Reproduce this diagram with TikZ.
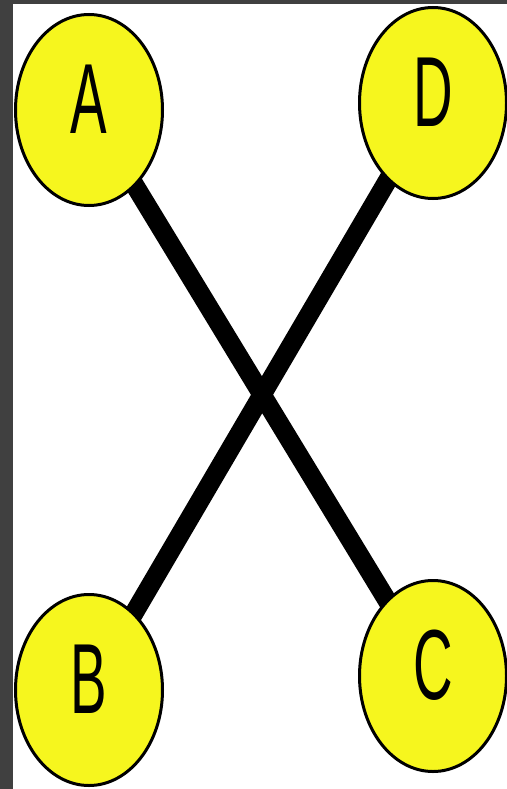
\documentclass[tikz,border=0pt]{standalone}
\usepackage{fontspec}
\usepackage{graphicx}
\setmainfont{Liberation Sans}
\usetikzlibrary{shapes.geometric, backgrounds}
\definecolor{ballyellow}{RGB}{246,246,30}
\definecolor{framegray}{RGB}{64,64,64}

\begin{document}
\begin{tikzpicture}[x=1bp, y=-1bp,
  ball/.style={ellipse, draw=black, line width=3bp, fill=ballyellow,
    minimum width=147bp, minimum height=191bp, inner sep=0pt,
    text depth=22bp, font=\fontsize{100}{100}\selectfont},
  link/.style={line width=19bp, black}]
\useasboundingbox (0,0) rectangle (507,789);
% the four balls
\node[ball] (A) at (89,110) {\scalebox{0.55}[1]{A}};
\node[ball] (D) at (433,103) {\scalebox{0.55}[1]{D}};
\node[ball] (B) at (89,690) {\scalebox{0.55}[1]{B}};
\node[ball] (C) at (433,676) {\scalebox{0.55}[1]{C}};
\begin{scope}[on background layer]
% frame
\fill[framegray] (0,0) rectangle (507,789);
\fill[white] (13,4) rectangle (507,789);
% crossing links, behind the balls
\draw[link] (A.center) -- (C.center);
\draw[link] (D.center) -- (B.center);
\end{scope}
\end{tikzpicture}
\end{document}
